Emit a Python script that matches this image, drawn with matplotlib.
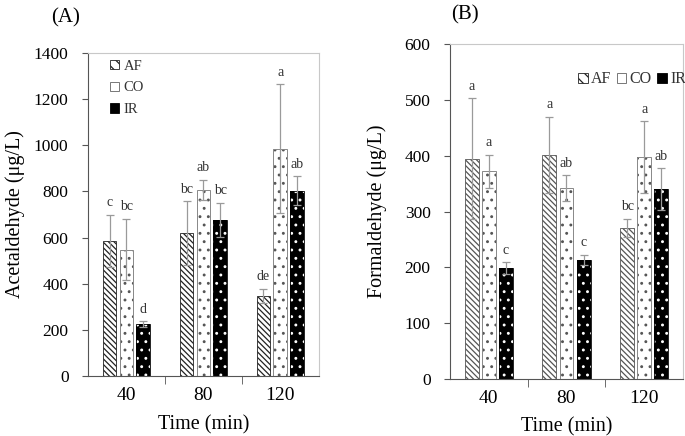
import numpy as np
import matplotlib
matplotlib.use('Agg')
import matplotlib.pyplot as plt
from matplotlib.patches import Patch

plt.rcParams['font.family'] = ['Liberation Serif', 'DejaVu Serif']
plt.rcParams['hatch.linewidth'] = 0.9

times = ['40', '80', '120']
series = ['AF', 'CO', 'IR']

# Acetaldehyde (panel A)
acet_af = [587, 620, 348]
acet_co = [548, 808, 985]
acet_ir = [225, 677, 803]
acet_af_err = [113, 137, 30]
acet_co_err = [133, 43, 280]
acet_ir_err = [13, 75, 62]
acet_af_let = ['c', 'bc', 'de']
acet_co_let = ['bc', 'ab', 'a']
acet_ir_let = ['d', 'bc', 'ab']

# Formaldehyde (panel B)
form_af = [395, 402, 271]
form_co = [372, 342, 398]
form_ir = [199, 214, 340]
form_af_err = [108, 68, 16]
form_co_err = [30, 23, 64]
form_ir_err = [10, 9, 38]
form_af_let = ['a', 'a', 'bc']
form_co_let = ['a', 'ab', 'a']
form_ir_let = ['c', 'c', 'ab']

ERR_COLOR = '#9a9a9a'
LIGHT = '#c8c8c8'
LINES = '\\' * 6
DOTS = '..'


def draw_bars(ax, vals, errs, lets, offset, style, hcol):
    x = np.arange(len(times)) + offset
    w = 0.18
    if style == 'AF':
        ax.bar(x, vals, w, facecolor='white', edgecolor=hcol, hatch=LINES, linewidth=0.6)
    elif style == 'CO':
        ax.bar(x, vals, w, facecolor='white', edgecolor='#555555', hatch=DOTS, linewidth=0)
        ax.bar(x, vals, w, facecolor='none', edgecolor='#888888', linewidth=0.7)
    else:
        ax.bar(x, vals, w, facecolor='black', edgecolor='white', hatch=DOTS, linewidth=0)
        ax.bar(x, vals, w, facecolor='none', edgecolor='black', linewidth=0.6)
    ax.errorbar(x, vals, yerr=errs, fmt='none', ecolor=ERR_COLOR, elinewidth=0.9,
                capsize=3, capthick=0.9)
    for xi, v, e, t in zip(x, vals, errs, lets):
        ax.annotate(t, (xi, v + e), xytext=(0, 4), textcoords='offset points',
                    ha='center', va='bottom', fontsize=10, color='#333333')


def style_axes(ax, ymax, ystep, ylabel, ylab_x, xlab_y):
    ax.set_xlim(-0.5, 2.5)
    ax.set_ylim(0, ymax)
    ax.set_yticks(np.arange(0, ymax + 1, ystep))
    ax.set_xticks(np.arange(len(times)))
    ax.set_xticklabels(times)
    ax.set_xticks([0.5, 1.5], minor=True)
    ax.tick_params(axis='x', which='major', length=0, labelsize=14, pad=8)
    ax.tick_params(axis='x', which='minor', length=6, direction='out', color='#555555')
    ax.tick_params(axis='y', labelsize=12.5, length=4, direction='out', color='#555555', pad=10)
    ax.spines['left'].set_color('#555555')
    ax.spines['bottom'].set_color('#555555')
    ax.spines['top'].set_color(LIGHT)
    ax.spines['right'].set_color(LIGHT)
    ax.set_ylabel(ylabel, fontsize=14.5)
    ax.set_xlabel('Time (min)', fontsize=14.5)
    ax.yaxis.set_label_coords(ylab_x, 0.5)
    ax.xaxis.set_label_coords(0.5, xlab_y)


fig = plt.figure(figsize=(6.85, 4.36), dpi=100)
ax1 = fig.add_axes([0.1285, 0.1376, 0.337, 0.7408])
ax2 = fig.add_axes([0.657, 0.1307, 0.340, 0.768])

offsets = [-0.22, 0.0, 0.22]
draw_bars(ax1, acet_af, acet_af_err, acet_af_let, offsets[0], 'AF', '#222222')
draw_bars(ax1, acet_co, acet_co_err, acet_co_let, offsets[1], 'CO', None)
draw_bars(ax1, acet_ir, acet_ir_err, acet_ir_let, offsets[2], 'IR', None)
style_axes(ax1, 1400, 200, 'Acetaldehyde (μg/L)', -0.275, -0.12)

draw_bars(ax2, form_af, form_af_err, form_af_let, offsets[0], 'AF', '#555555')
draw_bars(ax2, form_co, form_co_err, form_co_let, offsets[1], 'CO', None)
draw_bars(ax2, form_ir, form_ir_err, form_ir_let, offsets[2], 'IR', None)
style_axes(ax2, 600, 100, 'Formaldehyde (μg/L)', -0.27, -0.115)

handles = [
    Patch(facecolor='white', edgecolor='#222222', hatch='\\\\\\', linewidth=0.6),
    Patch(facecolor='white', edgecolor='#777777', linewidth=0.7),
    Patch(facecolor='black', edgecolor='black', linewidth=0.6),
]
ax1.legend(handles, series, loc='upper left', bbox_to_anchor=(0.04, 1.02), frameon=False,
           fontsize=10.5, handlelength=0.6, handleheight=0.6, handletextpad=0.3,
           labelspacing=0.6, labelcolor='#333333')
ax2.legend(handles, series, loc='upper right', bbox_to_anchor=(1.075, 0.962), frameon=False,
           fontsize=11.5, ncol=3, handlelength=0.6, handleheight=0.6, handletextpad=0.2,
           columnspacing=0.35, labelcolor='#333333')

fig.text(0.095, 0.958, '(A)', fontsize=15, ha='center', va='center')
fig.text(0.679, 0.966, '(B)', fontsize=15, ha='center', va='center')

fig.savefig('out.png', dpi=100)
